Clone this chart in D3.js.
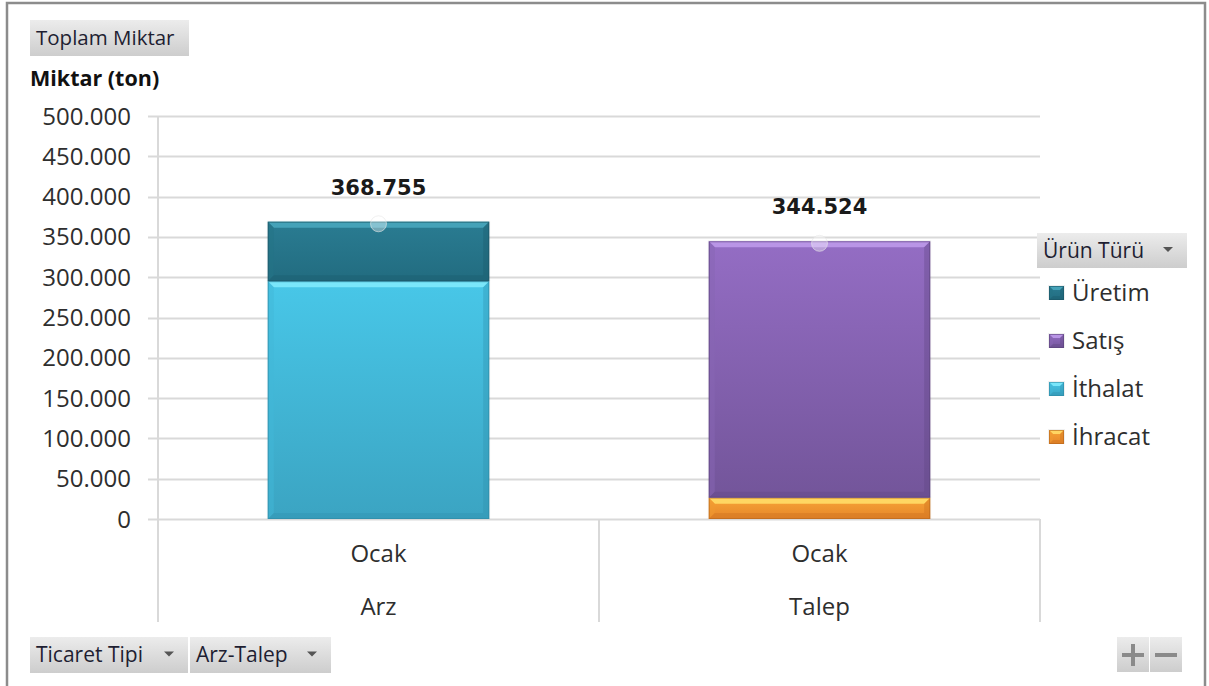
<!DOCTYPE html>
<html>
<head>
<meta charset="utf-8">
<script src="https://d3js.org/d3.v7.min.js"></script>
<style>
  html, body { margin: 0; padding: 0; background: #fff; }
  svg { display: block; font-family: "Open Sans", sans-serif; }
</style>
</head>
<body>
<div id="chart"></div>
<script>
// data
const groups = ["Arz", "Talep"];
const months = ["Ocak", "Ocak"];
const legendNames = ["Üretim", "Satış", "İthalat", "İhracat"];
const uretim = [73755, 0];
const satis = [0, 318024];
const ithalat = [295000, 0];
const ihracat = [0, 26500];
const yTicks = [0, 50000, 100000, 150000, 200000, 250000, 300000, 350000, 400000, 450000, 500000];

const Colors = {
    "Üretim":  {main: ["#2a7c92", "#226c80"], top: "#45a2b8", side: "#237386", bottom: "#1a5869", line: "#1b5565"},
    "Satış":   {main: ["#946dc4", "#73559a"], top: "#b995e6", side: "#8865b4", bottom: "#5f4682", line: "#5a4379"},
    "İthalat": {main: ["#48c7e8", "#3ba4c2"], top: "#7ae6fa", side: "#41b8d8", bottom: "#2f8eab", line: "#2f8aa5"},
    "İhracat": {main: ["#f7a436", "#e6862a"], top: "#ffd662", side: "#f09a30", bottom: "#c86e1c", line: "#b5651c"}
};

const W = 1209, H = 686;
const plot = {left: 158, right: 1040, top: 116, bottom: 519, axisBottom: 622};

const rows = groups.map((g, i) => ({
    group: g, month: months[i],
    "Üretim": uretim[i], "Satış": satis[i], "İthalat": ithalat[i], "İhracat": ihracat[i]
}));

const stackKeys = legendNames.slice().reverse();
const stacked = d3.stack().keys(stackKeys)(rows);

const trLocale = d3.formatLocale({decimal: ",", thousands: ".", grouping: [3], currency: ["", ""]});
const fmt = trLocale.format(",d");

const svg = d3.select("#chart").append("svg")
    .attr("width", W).attr("height", H);

const defs = svg.append("defs");
legendNames.forEach((name, i) => {
    const g = defs.append("linearGradient").attr("id", "grad" + i)
        .attr("x1", 0).attr("y1", 0).attr("x2", 0).attr("y2", 1);
    g.append("stop").attr("offset", "0%").attr("stop-color", Colors[name].main[0]);
    g.append("stop").attr("offset", "100%").attr("stop-color", Colors[name].main[1]);
});
const btnGrad = defs.append("linearGradient").attr("id", "btn")
    .attr("x1", 0).attr("y1", 0).attr("x2", 0).attr("y2", 1);
btnGrad.append("stop").attr("offset", "0%").attr("stop-color", "#ececec");
btnGrad.append("stop").attr("offset", "100%").attr("stop-color", "#cdcdcd");

// outer frame
svg.append("rect").attr("x", 7).attr("y", 3).attr("width", 1198).attr("height", 700)
    .attr("fill", "#fff").attr("stroke", "#8c8c8c").attr("stroke-width", 2.5);

const y = d3.scaleLinear().domain([0, 500000]).range([plot.bottom, plot.top]);
const x = d3.scaleBand().domain(groups).range([plot.left, plot.right]).paddingInner(0).paddingOuter(0);
const barW = x.bandwidth() * 0.502;

// gridlines
svg.append("g").selectAll("line").data(yTicks).join("line")
    .attr("x1", 148).attr("x2", plot.right)
    .attr("y1", d => Math.round(y(d)) + 0.5).attr("y2", d => Math.round(y(d)) + 0.5)
    .attr("stroke", "#d9d9d9").attr("stroke-width", 2);

// y axis line and category dividers
const dividers = [plot.left].concat(groups.map(g => x(g) + x.bandwidth()));
svg.append("line").attr("x1", plot.left).attr("x2", plot.left)
    .attr("y1", plot.top).attr("y2", plot.axisBottom)
    .attr("stroke", "#d9d9d9").attr("stroke-width", 2);
svg.append("g").selectAll("line").data(dividers.slice(1)).join("line")
    .attr("x1", d => d).attr("x2", d => d)
    .attr("y1", plot.bottom).attr("y2", plot.axisBottom)
    .attr("stroke", "#d9d9d9").attr("stroke-width", 2);

// y tick labels
svg.append("g").selectAll("text").data(yTicks).join("text")
    .attr("x", 131).attr("y", d => y(d) + 8.5)
    .attr("text-anchor", "end")
    .attr("font-size", 24).attr("fill", "#2e2e2e")
    .text(d => fmt(d));

// category labels
svg.append("g").selectAll("text").data(rows).join("text")
    .attr("x", d => x(d.group) + x.bandwidth() / 2).attr("y", 562)
    .attr("text-anchor", "middle").attr("font-size", 24).attr("fill", "#2e2e2e")
    .text(d => d.month);
svg.append("g").selectAll("text").data(rows).join("text")
    .attr("x", d => x(d.group) + x.bandwidth() / 2).attr("y", 615)
    .attr("text-anchor", "middle").attr("font-size", 24).attr("fill", "#2e2e2e")
    .text(d => d.group);

// bevelled segment
function bevelBox(g, x0, y0, x1, y1, name, gradId, b) {
    const c = Colors[name];
    const bb = Math.min(b, (y1 - y0) / 2);
    g.append("rect").attr("x", x0 - 1).attr("y", y0 - 1).attr("width", x1 - x0 + 2).attr("height", y1 - y0 + 1)
        .attr("fill", "#000").attr("opacity", 0.06);
    g.append("rect").attr("x", x0).attr("y", y0).attr("width", x1 - x0).attr("height", y1 - y0)
        .attr("fill", "url(#" + gradId + ")");
    g.append("polygon").attr("points", [[x0, y0], [x1, y0], [x1 - bb, y0 + bb], [x0 + bb, y0 + bb]].join(" "))
        .attr("fill", c.top);
    g.append("polygon").attr("points", [[x0, y0], [x0 + bb, y0 + bb], [x0 + bb, y1 - bb], [x0, y1]].join(" "))
        .attr("fill", c.side).attr("opacity", 0.5);
    g.append("polygon").attr("points", [[x1, y0], [x1 - bb, y0 + bb], [x1 - bb, y1 - bb], [x1, y1]].join(" "))
        .attr("fill", c.bottom).attr("opacity", 0.35);
    g.append("polygon").attr("points", [[x0, y1], [x0 + bb, y1 - bb], [x1 - bb, y1 - bb], [x1, y1]].join(" "))
        .attr("fill", c.bottom).attr("opacity", 0.35);
    g.append("rect").attr("x", x0 + 0.5).attr("y", y0 + 0.5).attr("width", x1 - x0 - 1).attr("height", y1 - y0 - 1)
        .attr("fill", "none").attr("stroke", c.line).attr("stroke-width", 1).attr("opacity", 0.6);
}

const barsG = svg.append("g");
stacked.forEach(layer => {
    const name = layer.key;
    const gi = legendNames.indexOf(name);
    layer.forEach(seg => {
        if (seg[1] - seg[0] <= 0) return;
        const cx = x(seg.data.group) + x.bandwidth() / 2;
        bevelBox(barsG, cx - barW / 2, y(seg[1]), cx + barW / 2, y(seg[0]), name, "grad" + gi, 6);
    });
});

// totals: marker + label
const totals = rows.map(r => ({group: r.group, total: d3.sum(legendNames, k => r[k])}));
svg.append("g").selectAll("circle").data(totals).join("circle")
    .attr("cx", d => x(d.group) + x.bandwidth() / 2).attr("cy", d => y(d.total) + 2)
    .attr("r", 8).attr("fill", "#fff").attr("fill-opacity", 0.35)
    .attr("stroke", "#e6e6e6").attr("stroke-opacity", 0.6);
svg.append("g").selectAll("text").data(totals).join("text")
    .attr("x", d => x(d.group) + x.bandwidth() / 2).attr("y", d => y(d.total) - 27)
    .attr("text-anchor", "middle").attr("font-family", "DejaVu Sans, sans-serif")
    .attr("font-weight", "bold").attr("font-size", 21).attr("fill", "#1a1a1a")
    .text(d => fmt(d.total));

// buttons
function button(x0, y0, w, h, label, arrow, fs) {
    const g = svg.append("g");
    g.append("rect").attr("x", x0).attr("y", y0).attr("width", w).attr("height", h)
        .attr("fill", "url(#btn)");
    g.append("text").attr("x", x0 + 6).attr("y", y0 + h / 2 + 7)
        .attr("font-size", fs).attr("fill", "#1e1e32").text(label);
    if (arrow) {
        const ax = x0 + w - 19, ay = y0 + h / 2 - 1;
        g.append("path").attr("d", `M${ax - 5},${ay - 2.5}L${ax + 5},${ay - 2.5}L${ax},${ay + 2.5}Z`)
            .attr("fill", "#555");
    }
}
button(30, 20, 159, 36, "Toplam Miktar", false, 20.5);
button(30, 637, 158, 36, "Ticaret Tipi", true, 21);
button(190, 637, 141, 36, "Arz-Talep", true, 21);
button(1037, 233, 150, 35, "Ürün Türü", true, 21);

// +/- buttons
[[1117, "+"], [1150, "-"]].forEach(([bx, s]) => {
    svg.append("rect").attr("x", bx).attr("y", 637).attr("width", 32).attr("height", 35)
        .attr("fill", "url(#btn)");
    const cx = bx + 16, cy = 655;
    svg.append("rect").attr("x", cx - 11).attr("y", cy - 2).attr("width", 22).attr("height", 4).attr("fill", "#8a8a8a");
    if (s === "+") svg.append("rect").attr("x", cx - 2).attr("y", cy - 11).attr("width", 4).attr("height", 22).attr("fill", "#8a8a8a");
});

// axis title
svg.append("text").attr("x", 30).attr("y", 86)
    .attr("font-weight", "bold").attr("font-size", 21.5).attr("fill", "#111")
    .text("Miktar (ton)");

// legend
const legend = svg.append("g").selectAll("g").data(legendNames).join("g")
    .attr("transform", (d, i) => `translate(1049, ${286 + i * 48})`);
legend.each(function (d, i) {
    bevelBox(d3.select(this), 0, 0, 15, 14, d, "grad" + i, 4);
});
legend.append("text").attr("x", 23).attr("y", 15)
    .attr("font-size", 24).attr("fill", "#2e2e2e").text(d => d);
</script>
</body>
</html>
